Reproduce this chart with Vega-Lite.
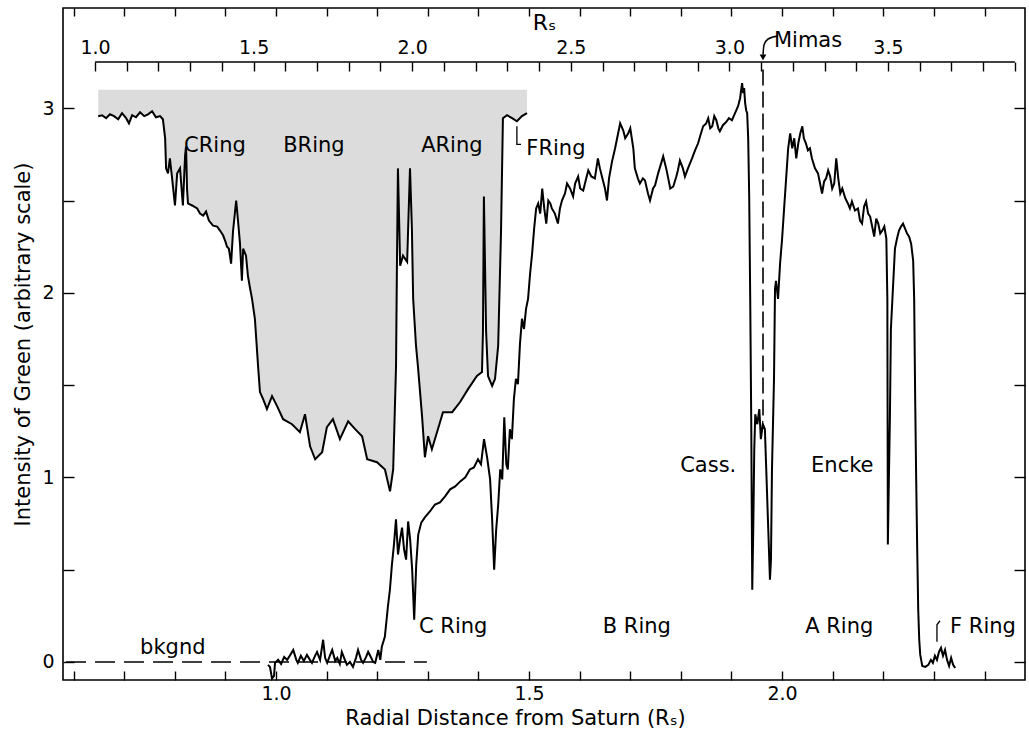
{
  "$schema": "https://vega.github.io/schema/vega-lite/v6.json",
  "width": 962,
  "height": 672,
  "autosize": {"type": "none"},
  "padding": {"left": 63, "top": 8, "right": 4, "bottom": 62},
  "background": "#ffffff",
  "config": {
    "view": {"stroke": "#000000", "strokeWidth": 1.6},
    "font": "DejaVu Sans",
    "axis": {"labelFont": "DejaVu Sans", "titleFont": "DejaVu Sans", "labelColor": "#000000", "titleColor": "#000000", "tickColor": "#000000", "tickWidth": 1.4, "grid": false, "domain": false, "titleFontWeight": "normal", "labelFontSize": 19, "titleFontSize": 21}
  },
  "datasets": {
    "lower": [
      {"x":0.984,"y":-0.016},{"x":0.988,"y":-0.027},{"x":0.992,"y":-0.09},{"x":0.996,"y":-0.076},{"x":0.998,"y":-0.005},{"x":1.004,"y":0.011},{"x":1.010,"y":-0.011},{"x":1.016,"y":0.027},{"x":1.022,"y":0.011},{"x":1.028,"y":0.038},{"x":1.034,"y":0.065},{"x":1.040,"y":0.011},{"x":1.043,"y":-0.005},{"x":1.049,"y":0.033},{"x":1.055,"y":0.005},{"x":1.061,"y":0.038},{"x":1.067,"y":0.011},{"x":1.071,"y":-0.005},{"x":1.077,"y":0.033},{"x":1.081,"y":0.054},{"x":1.087,"y":0.011},{"x":1.093,"y":0.120},{"x":1.097,"y":0.022},{"x":1.101,"y":-0.005},{"x":1.107,"y":0.038},{"x":1.111,"y":0.065},{"x":1.117,"y":0.005},{"x":1.121,"y":0.022},{"x":1.126,"y":-0.011},{"x":1.130,"y":0.054},{"x":1.136,"y":0.011},{"x":1.140,"y":-0.016},{"x":1.146,"y":0.0},{"x":1.152,"y":-0.027},{"x":1.158,"y":0.022},{"x":1.162,"y":0.065},{"x":1.168,"y":0.011},{"x":1.172,"y":-0.005},{"x":1.178,"y":0.027},{"x":1.182,"y":0.054},{"x":1.186,"y":0.033},{"x":1.192,"y":0.0},{"x":1.196,"y":-0.005},{"x":1.202,"y":0.065},{"x":1.206,"y":0.011},{"x":1.209,"y":0.082},{"x":1.215,"y":0.136},{"x":1.221,"y":0.299},{"x":1.225,"y":0.391},{"x":1.229,"y":0.527},{"x":1.233,"y":0.636},{"x":1.237,"y":0.772},{"x":1.241,"y":0.582},{"x":1.245,"y":0.663},{"x":1.249,"y":0.728},{"x":1.253,"y":0.609},{"x":1.257,"y":0.554},{"x":1.261,"y":0.761},{"x":1.265,"y":0.663},{"x":1.269,"y":0.500},{"x":1.273,"y":0.228},{"x":1.277,"y":0.527},{"x":1.281,"y":0.690},{"x":1.287,"y":0.755},{"x":1.294,"y":0.783},{"x":1.304,"y":0.815},{"x":1.314,"y":0.853},{"x":1.324,"y":0.864},{"x":1.334,"y":0.897},{"x":1.344,"y":0.935},{"x":1.354,"y":0.951},{"x":1.364,"y":0.978},{"x":1.374,"y":1.000},{"x":1.383,"y":1.043},{"x":1.391,"y":1.054},{"x":1.399,"y":1.098},{"x":1.405,"y":1.071},{"x":1.411,"y":1.207},{"x":1.417,"y":1.109},{"x":1.423,"y":0.989},{"x":1.427,"y":0.772},{"x":1.431,"y":0.500},{"x":1.435,"y":0.717},{"x":1.439,"y":0.853},{"x":1.443,"y":1.043},{"x":1.447,"y":0.989},{"x":1.451,"y":1.326},{"x":1.455,"y":1.071},{"x":1.458,"y":1.043},{"x":1.462,"y":1.261},{"x":1.466,"y":1.207},{"x":1.470,"y":1.424},{"x":1.474,"y":1.533},{"x":1.478,"y":1.505},{"x":1.482,"y":1.723},{"x":1.486,"y":1.859},{"x":1.490,"y":1.804},{"x":1.494,"y":1.913},{"x":1.498,"y":1.967},{"x":1.502,"y":2.103},{"x":1.506,"y":2.212},{"x":1.510,"y":2.348},{"x":1.514,"y":2.457},{"x":1.518,"y":2.484},{"x":1.522,"y":2.429},{"x":1.526,"y":2.565},{"x":1.530,"y":2.457},{"x":1.534,"y":2.375},{"x":1.538,"y":2.500},{"x":1.542,"y":2.484},{"x":1.545,"y":2.457},{"x":1.551,"y":2.429},{"x":1.557,"y":2.375},{"x":1.561,"y":2.457},{"x":1.565,"y":2.500},{"x":1.571,"y":2.538},{"x":1.575,"y":2.592},{"x":1.581,"y":2.565},{"x":1.587,"y":2.522},{"x":1.591,"y":2.592},{"x":1.597,"y":2.630},{"x":1.601,"y":2.565},{"x":1.607,"y":2.554},{"x":1.613,"y":2.620},{"x":1.617,"y":2.663},{"x":1.623,"y":2.630},{"x":1.630,"y":2.620},{"x":1.636,"y":2.728},{"x":1.640,"y":2.674},{"x":1.644,"y":2.630},{"x":1.650,"y":2.565},{"x":1.654,"y":2.500},{"x":1.658,"y":2.620},{"x":1.664,"y":2.712},{"x":1.670,"y":2.783},{"x":1.676,"y":2.864},{"x":1.680,"y":2.918},{"x":1.686,"y":2.880},{"x":1.690,"y":2.837},{"x":1.696,"y":2.864},{"x":1.700,"y":2.891},{"x":1.706,"y":2.783},{"x":1.709,"y":2.674},{"x":1.715,"y":2.620},{"x":1.719,"y":2.592},{"x":1.725,"y":2.620},{"x":1.729,"y":2.609},{"x":1.735,"y":2.538},{"x":1.739,"y":2.500},{"x":1.745,"y":2.565},{"x":1.749,"y":2.582},{"x":1.755,"y":2.647},{"x":1.761,"y":2.701},{"x":1.765,"y":2.739},{"x":1.771,"y":2.674},{"x":1.775,"y":2.620},{"x":1.779,"y":2.565},{"x":1.785,"y":2.576},{"x":1.791,"y":2.630},{"x":1.794,"y":2.663},{"x":1.798,"y":2.717},{"x":1.804,"y":2.674},{"x":1.808,"y":2.630},{"x":1.814,"y":2.674},{"x":1.822,"y":2.728},{"x":1.828,"y":2.772},{"x":1.834,"y":2.810},{"x":1.838,"y":2.848},{"x":1.844,"y":2.902},{"x":1.850,"y":2.918},{"x":1.854,"y":2.946},{"x":1.858,"y":2.891},{"x":1.862,"y":2.902},{"x":1.866,"y":2.957},{"x":1.870,"y":2.935},{"x":1.874,"y":2.891},{"x":1.877,"y":2.875},{"x":1.883,"y":2.908},{"x":1.889,"y":2.924},{"x":1.895,"y":2.946},{"x":1.901,"y":2.935},{"x":1.907,"y":2.973},{"x":1.913,"y":3.011},{"x":1.917,"y":3.054},{"x":1.921,"y":3.136},{"x":1.923,"y":3.082},{"x":1.925,"y":3.109},{"x":1.927,"y":3.027},{"x":1.929,"y":2.989},{"x":1.931,"y":2.973},{"x":1.933,"y":2.837},{"x":1.935,"y":2.522},{"x":1.937,"y":1.967},{"x":1.939,"y":1.315},{"x":1.941,"y":0.391},{"x":1.943,"y":0.717},{"x":1.945,"y":1.152},{"x":1.947,"y":1.342},{"x":1.951,"y":1.288},{"x":1.955,"y":1.370},{"x":1.958,"y":1.207},{"x":1.962,"y":1.288},{"x":1.966,"y":1.261},{"x":1.968,"y":1.098},{"x":1.972,"y":0.772},{"x":1.976,"y":0.446},{"x":1.978,"y":0.554},{"x":1.980,"y":1.043},{"x":1.984,"y":1.533},{"x":1.986,"y":2.022},{"x":1.988,"y":2.065},{"x":1.992,"y":1.967},{"x":1.996,"y":2.158},{"x":2.000,"y":2.293},{"x":2.004,"y":2.457},{"x":2.008,"y":2.620},{"x":2.012,"y":2.783},{"x":2.016,"y":2.864},{"x":2.020,"y":2.783},{"x":2.024,"y":2.837},{"x":2.028,"y":2.728},{"x":2.032,"y":2.810},{"x":2.036,"y":2.864},{"x":2.040,"y":2.902},{"x":2.043,"y":2.837},{"x":2.047,"y":2.810},{"x":2.051,"y":2.772},{"x":2.055,"y":2.783},{"x":2.059,"y":2.728},{"x":2.065,"y":2.674},{"x":2.071,"y":2.647},{"x":2.075,"y":2.592},{"x":2.079,"y":2.538},{"x":2.083,"y":2.603},{"x":2.087,"y":2.620},{"x":2.091,"y":2.663},{"x":2.095,"y":2.630},{"x":2.099,"y":2.565},{"x":2.103,"y":2.592},{"x":2.107,"y":2.728},{"x":2.111,"y":2.620},{"x":2.115,"y":2.538},{"x":2.119,"y":2.565},{"x":2.125,"y":2.511},{"x":2.130,"y":2.484},{"x":2.134,"y":2.457},{"x":2.138,"y":2.495},{"x":2.144,"y":2.446},{"x":2.150,"y":2.457},{"x":2.154,"y":2.391},{"x":2.158,"y":2.375},{"x":2.162,"y":2.467},{"x":2.166,"y":2.495},{"x":2.170,"y":2.429},{"x":2.174,"y":2.413},{"x":2.178,"y":2.359},{"x":2.182,"y":2.304},{"x":2.186,"y":2.402},{"x":2.190,"y":2.375},{"x":2.194,"y":2.321},{"x":2.198,"y":2.337},{"x":2.202,"y":2.359},{"x":2.206,"y":2.293},{"x":2.208,"y":1.967},{"x":2.209,"y":0.636},{"x":2.211,"y":0.989},{"x":2.213,"y":1.315},{"x":2.215,"y":1.804},{"x":2.219,"y":2.022},{"x":2.223,"y":2.239},{"x":2.227,"y":2.293},{"x":2.231,"y":2.337},{"x":2.235,"y":2.359},{"x":2.239,"y":2.375},{"x":2.243,"y":2.348},{"x":2.247,"y":2.321},{"x":2.251,"y":2.304},{"x":2.255,"y":2.266},{"x":2.259,"y":2.174},{"x":2.261,"y":1.967},{"x":2.263,"y":1.424},{"x":2.265,"y":0.989},{"x":2.267,"y":0.609},{"x":2.269,"y":0.283},{"x":2.271,"y":0.120},{"x":2.273,"y":0.038},{"x":2.277,"y":-0.022},{"x":2.283,"y":-0.027},{"x":2.289,"y":-0.016},{"x":2.294,"y":0.011},{"x":2.298,"y":-0.005},{"x":2.302,"y":0.033},{"x":2.306,"y":0.011},{"x":2.310,"y":0.054},{"x":2.314,"y":0.076},{"x":2.318,"y":0.033},{"x":2.322,"y":0.065},{"x":2.326,"y":0.011},{"x":2.330,"y":-0.022},{"x":2.334,"y":0.022},{"x":2.338,"y":-0.016},{"x":2.342,"y":-0.033}
    ],
    "upper": [
      {"x":1.010,"y":2.957},{"x":1.022,"y":2.962},{"x":1.035,"y":2.946},{"x":1.047,"y":2.967},{"x":1.060,"y":2.957},{"x":1.073,"y":2.940},{"x":1.085,"y":2.973},{"x":1.098,"y":2.946},{"x":1.107,"y":2.918},{"x":1.117,"y":2.962},{"x":1.129,"y":2.951},{"x":1.142,"y":2.978},{"x":1.155,"y":2.957},{"x":1.167,"y":2.967},{"x":1.180,"y":2.984},{"x":1.192,"y":2.951},{"x":1.205,"y":2.957},{"x":1.214,"y":2.940},{"x":1.221,"y":2.837},{"x":1.224,"y":2.674},{"x":1.230,"y":2.647},{"x":1.236,"y":2.728},{"x":1.243,"y":2.620},{"x":1.252,"y":2.473},{"x":1.259,"y":2.647},{"x":1.268,"y":2.674},{"x":1.274,"y":2.538},{"x":1.277,"y":2.473},{"x":1.284,"y":2.745},{"x":1.287,"y":2.793},{"x":1.290,"y":2.565},{"x":1.293,"y":2.484},{"x":1.306,"y":2.473},{"x":1.322,"y":2.457},{"x":1.331,"y":2.429},{"x":1.341,"y":2.418},{"x":1.350,"y":2.440},{"x":1.359,"y":2.391},{"x":1.372,"y":2.364},{"x":1.385,"y":2.359},{"x":1.394,"y":2.337},{"x":1.404,"y":2.310},{"x":1.410,"y":2.283},{"x":1.416,"y":2.250},{"x":1.422,"y":2.239},{"x":1.429,"y":2.158},{"x":1.435,"y":2.332},{"x":1.445,"y":2.500},{"x":1.451,"y":2.386},{"x":1.457,"y":2.266},{"x":1.463,"y":2.065},{"x":1.467,"y":2.239},{"x":1.476,"y":2.201},{"x":1.482,"y":2.092},{"x":1.489,"y":2.022},{"x":1.495,"y":1.967},{"x":1.504,"y":1.859},{"x":1.514,"y":1.603},{"x":1.520,"y":1.462},{"x":1.530,"y":1.424},{"x":1.542,"y":1.370},{"x":1.558,"y":1.440},{"x":1.574,"y":1.386},{"x":1.593,"y":1.315},{"x":1.621,"y":1.288},{"x":1.646,"y":1.245},{"x":1.662,"y":1.342},{"x":1.678,"y":1.168},{"x":1.694,"y":1.098},{"x":1.716,"y":1.136},{"x":1.731,"y":1.272},{"x":1.750,"y":1.315},{"x":1.772,"y":1.207},{"x":1.798,"y":1.304},{"x":1.820,"y":1.261},{"x":1.842,"y":1.223},{"x":1.858,"y":1.098},{"x":1.889,"y":1.082},{"x":1.914,"y":1.043},{"x":1.930,"y":0.924},{"x":1.940,"y":1.043},{"x":1.949,"y":1.603},{"x":1.952,"y":2.185},{"x":1.955,"y":2.674},{"x":1.962,"y":2.147},{"x":1.971,"y":2.201},{"x":1.984,"y":2.168},{"x":1.993,"y":2.674},{"x":1.999,"y":2.348},{"x":2.003,"y":1.967},{"x":2.012,"y":1.712},{"x":2.018,"y":1.603},{"x":2.031,"y":1.332},{"x":2.040,"y":1.109},{"x":2.050,"y":1.223},{"x":2.062,"y":1.152},{"x":2.081,"y":1.261},{"x":2.097,"y":1.353},{"x":2.126,"y":1.353},{"x":2.151,"y":1.408},{"x":2.176,"y":1.478},{"x":2.204,"y":1.549},{"x":2.220,"y":1.571},{"x":2.223,"y":1.788},{"x":2.226,"y":2.522},{"x":2.233,"y":1.788},{"x":2.239,"y":1.549},{"x":2.252,"y":1.495},{"x":2.261,"y":1.533},{"x":2.271,"y":1.712},{"x":2.280,"y":2.332},{"x":2.286,"y":2.946},{"x":2.299,"y":2.962},{"x":2.315,"y":2.946},{"x":2.330,"y":2.929},{"x":2.346,"y":2.957},{"x":2.362,"y":2.973}
    ],
    "toplabels": [
      {"x":1.378,"y":2.793,"text":"CRing"},
      {"x":1.690,"y":2.793,"text":"BRing"},
      {"x":2.125,"y":2.793,"text":"ARing"},
      {"x":2.453,"y":2.780,"text":"FRing"},
      {"x":3.248,"y":3.364,"text":"Mimas"}
    ],
    "botlabels": [
      {"x":0.796,"y":0.076,"text":"bkgnd"},
      {"x":1.350,"y":0.190,"text":"C Ring"},
      {"x":1.713,"y":0.190,"text":"B Ring"},
      {"x":2.113,"y":0.190,"text":"A Ring"},
      {"x":2.397,"y":0.190,"text":"F Ring"},
      {"x":1.854,"y":1.060,"text":"Cass."},
      {"x":2.119,"y":1.060,"text":"Encke"}
    ],
    "bkgnd": [{"x":0.585,"x2":1.298,"y":0}],
    "topline": [{"x":1.0,"x2":3.9,"y":3.25}],
    "mimasline": [{"x":3.106,"y":3.21,"y2":1.30}],
    "mimashead": [{"x":3.106,"y":3.275}],
    "fhookbot": [
      {"i":1,"x":2.306,"y":0.109},{"i":2,"x":2.306,"y":0.201},{"i":3,"x":2.312,"y":0.223}
    ],
    "fhooktop": [
      {"i":1,"x":2.330,"y":2.902},{"i":2,"x":2.330,"y":2.804},{"i":3,"x":2.343,"y":2.804}
    ],
    "mimasarrow": [
      {"i":1,"x":3.153,"y":3.391},{"i":2,"x":3.122,"y":3.375},{"i":3,"x":3.109,"y":3.342},{"i":4,"x":3.106,"y":3.290}
    ]
  },
  "layer": [
    {
      "data": {"name": "upper"},
      "mark": {"type": "area", "color": "#dcdcdc", "opacity": 1},
      "encoding": {
        "x": {"field": "x", "type": "quantitative", "scale": {"domain": [0.899, 3.932], "nice": false, "zero": false},
          "axis": {"orient": "top", "offset": -54, "values": [1.0,1.1,1.2,1.3,1.4,1.5,1.6,1.7,1.8,1.9,2.0,2.1,2.2,2.3,2.4,2.5,2.6,2.7,2.8,2.9,3.0,3.1,3.2,3.3,3.4,3.5,3.6,3.7,3.8,3.9],
            "labelExpr": "datum.value < 3.55 && abs(datum.value*2-round(datum.value*2)) < 0.01 ? format(datum.value, '.1f') : ''",
            "tickSize": -9, "labelPadding": 14, "title": "Rₛ", "titlePadding": 4, "titleFontSize": 22, "labelFlush": false, "labelOverlap": false}},
        "y": {"field": "y", "type": "quantitative", "scale": {"domain": [-0.098, 3.543], "nice": false, "zero": false},
          "axis": {"orient": "right", "labels": false, "title": null, "values": [0,0.5,1,1.5,2,2.5,3], "tickSize": -11}},
        "y2": {"datum": 3.1}
      }
    },
    {
      "data": {"name": "upper"},
      "mark": {"type": "line", "color": "#000000", "strokeWidth": 2},
      "encoding": {
        "x": {"field": "x", "type": "quantitative", "scale": {"domain": [0.899, 3.932], "nice": false, "zero": false}, "axis": null},
        "y": {"field": "y", "type": "quantitative", "scale": {"domain": [-0.098, 3.543], "nice": false, "zero": false}, "axis": null}
      }
    },
    {
      "data": {"name": "topline"},
      "mark": {"type": "rule", "color": "#000000", "strokeWidth": 1.5},
      "encoding": {
        "x": {"field": "x", "type": "quantitative", "scale": {"domain": [0.899, 3.932], "nice": false, "zero": false}, "axis": null},
        "x2": {"field": "x2"},
        "y": {"field": "y", "type": "quantitative", "scale": {"domain": [-0.098, 3.543], "nice": false, "zero": false}, "axis": null}
      }
    },
    {
      "data": {"name": "mimasline"},
      "mark": {"type": "rule", "color": "#000000", "strokeWidth": 1.6, "strokeDash": [16, 6]},
      "encoding": {
        "x": {"field": "x", "type": "quantitative", "scale": {"domain": [0.899, 3.932], "nice": false, "zero": false}, "axis": null},
        "y": {"field": "y", "type": "quantitative", "scale": {"domain": [-0.098, 3.543], "nice": false, "zero": false}, "axis": null},
        "y2": {"field": "y2"}
      }
    },
    {
      "data": {"name": "mimasarrow"},
      "mark": {"type": "line", "color": "#000000", "strokeWidth": 1.5, "interpolate": "monotone"},
      "encoding": {
        "x": {"field": "x", "type": "quantitative", "scale": {"domain": [0.899, 3.932], "nice": false, "zero": false}, "axis": null},
        "y": {"field": "y", "type": "quantitative", "scale": {"domain": [-0.098, 3.543], "nice": false, "zero": false}, "axis": null},
        "order": {"field": "i"}
      }
    },
    {
      "data": {"name": "mimashead"},
      "mark": {"type": "point", "shape": "triangle-down", "filled": true, "color": "#000000", "size": 45, "opacity": 1},
      "encoding": {
        "x": {"field": "x", "type": "quantitative", "scale": {"domain": [0.899, 3.932], "nice": false, "zero": false}, "axis": null},
        "y": {"field": "y", "type": "quantitative", "scale": {"domain": [-0.098, 3.543], "nice": false, "zero": false}, "axis": null}
      }
    },
    {
      "data": {"name": "fhooktop"},
      "mark": {"type": "line", "color": "#000000", "strokeWidth": 1.3},
      "encoding": {
        "x": {"field": "x", "type": "quantitative", "scale": {"domain": [0.899, 3.932], "nice": false, "zero": false}, "axis": null},
        "y": {"field": "y", "type": "quantitative", "scale": {"domain": [-0.098, 3.543], "nice": false, "zero": false}, "axis": null},
        "order": {"field": "i"}
      }
    },
    {
      "data": {"name": "toplabels"},
      "mark": {"type": "text", "font": "DejaVu Sans", "fontSize": 21, "color": "#000000", "baseline": "middle", "align": "center"},
      "encoding": {
        "x": {"field": "x", "type": "quantitative", "scale": {"domain": [0.899, 3.932], "nice": false, "zero": false}, "axis": null},
        "y": {"field": "y", "type": "quantitative", "scale": {"domain": [-0.098, 3.543], "nice": false, "zero": false}, "axis": null},
        "text": {"field": "text"}
      }
    },
    {
      "data": {"name": "bkgnd"},
      "mark": {"type": "rule", "color": "#000000", "strokeWidth": 1.5, "strokeDash": [20, 9]},
      "encoding": {
        "x": {"field": "x", "type": "quantitative", "scale": {"domain": [0.579, 2.48], "nice": false, "zero": false},
          "axis": {"orient": "top", "labels": false, "title": null, "tickSize": -8,
            "values": [0.6,0.7,0.8,0.9,1.0,1.1,1.2,1.3,1.4,1.5,1.6,1.7,1.8,1.9,2.0,2.1,2.2,2.3,2.4]}},
        "x2": {"field": "x2"},
        "y": {"field": "y", "type": "quantitative", "scale": {"domain": [-0.098, 3.543], "nice": false, "zero": false}, "axis": null}
      }
    },
    {
      "data": {"name": "lower"},
      "mark": {"type": "line", "color": "#000000", "strokeWidth": 2},
      "encoding": {
        "x": {"field": "x", "type": "quantitative", "scale": {"domain": [0.579, 2.48], "nice": false, "zero": false},
          "axis": {"orient": "bottom", "values": [0.6,0.7,0.8,0.9,1.0,1.1,1.2,1.3,1.4,1.5,1.6,1.7,1.8,1.9,2.0,2.1,2.2,2.3,2.4],
            "labelExpr": "abs(datum.value*2-round(datum.value*2)) < 0.01 && datum.value > 0.95 && datum.value < 2.05 ? format(datum.value, '.1f') : ''",
            "tickSize": -9, "labelPadding": 13, "labelFlush": false, "labelOverlap": false,
            "title": "Radial Distance from Saturn (Rₛ)", "titlePadding": 4, "titleX": 452}},
        "y": {"field": "y", "type": "quantitative", "scale": {"domain": [-0.098, 3.543], "nice": false, "zero": false},
          "axis": {"orient": "left", "values": [0,0.5,1,1.5,2,2.5,3],
            "labelExpr": "datum.value % 1 == 0 ? format(datum.value, 'd') : ''",
            "tickSize": -11, "labelPadding": 20, "labelOverlap": false,
            "title": "Intensity of Green (arbitrary scale)", "titlePadding": 8}}
      }
    },
    {
      "data": {"name": "fhookbot"},
      "mark": {"type": "line", "color": "#000000", "strokeWidth": 1.3},
      "encoding": {
        "x": {"field": "x", "type": "quantitative", "scale": {"domain": [0.579, 2.48], "nice": false, "zero": false}, "axis": null},
        "y": {"field": "y", "type": "quantitative", "scale": {"domain": [-0.098, 3.543], "nice": false, "zero": false}, "axis": null},
        "order": {"field": "i"}
      }
    },
    {
      "data": {"name": "botlabels"},
      "mark": {"type": "text", "font": "DejaVu Sans", "fontSize": 21, "color": "#000000", "baseline": "middle", "align": "center"},
      "encoding": {
        "x": {"field": "x", "type": "quantitative", "scale": {"domain": [0.579, 2.48], "nice": false, "zero": false}, "axis": null},
        "y": {"field": "y", "type": "quantitative", "scale": {"domain": [-0.098, 3.543], "nice": false, "zero": false}, "axis": null},
        "text": {"field": "text"}
      }
    }
  ],
  "resolve": {"scale": {"x": "independent"}, "axis": {"x": "independent", "y": "independent"}}
}
